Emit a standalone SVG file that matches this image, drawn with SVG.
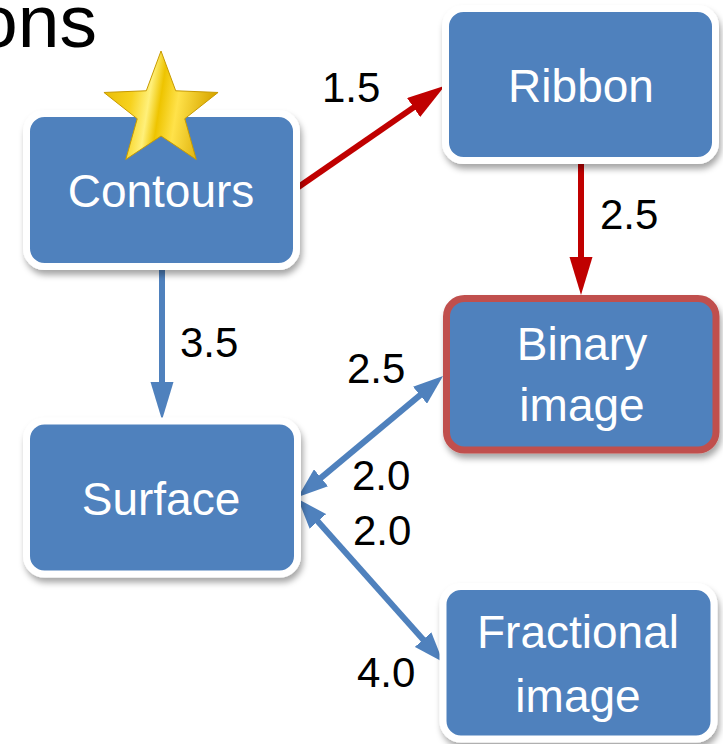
<svg xmlns="http://www.w3.org/2000/svg" width="723" height="744" viewBox="0 0 723 744">
<style>
.box{fill:#4F81BD;stroke:#FFFFFF;stroke-width:7;filter:url(#sh)}
.boxr{fill:#4F81BD;stroke:#C0504D;stroke-width:7;filter:url(#sh)}
.nt{font-family:"Liberation Sans",Arial,sans-serif;font-size:46px;fill:#FFFFFF;text-anchor:middle}
.lb{font-family:"Liberation Sans",Arial,sans-serif;font-size:42px;fill:#000000}
.red{stroke:#C00000;stroke-width:6;fill:none;marker-end:url(#rh)}
.blu{stroke:#4F81BD;stroke-width:6;fill:none}
</style>
<defs>
<filter id="sh" x="-10%" y="-10%" width="125%" height="130%">
<feDropShadow dx="2" dy="5" stdDeviation="3" flood-color="#000" flood-opacity="0.35"/>
</filter>
<marker id="rh" markerUnits="userSpaceOnUse" markerWidth="40" markerHeight="24" refX="8" refY="11.5" orient="auto">
<path d="M0,0 L38,11.5 L0,23 z" fill="#C00000"/>
</marker>
<marker id="bhv" markerUnits="userSpaceOnUse" markerWidth="40" markerHeight="24" refX="8" refY="11.5" orient="auto">
<path d="M0,0 L38,11.5 L0,23 z" fill="#4F81BD"/>
</marker>
<marker id="bh" markerUnits="userSpaceOnUse" markerWidth="32" markerHeight="22" refX="6" refY="11" orient="auto-start-reverse">
<path d="M0,0 L30,11 L0,22 z" fill="#4F81BD"/>
</marker>
<linearGradient id="gold" x1="0" y1="0" x2="1" y2="0.15">
<stop offset="0" stop-color="#E6B800"/>
<stop offset="0.3" stop-color="#F7D21E"/>
<stop offset="0.45" stop-color="#FFF07A"/>
<stop offset="0.55" stop-color="#EEC400"/>
<stop offset="0.7" stop-color="#FFE24A"/>
<stop offset="1" stop-color="#D9A800"/>
</linearGradient>
</defs>
<rect width="723" height="744" fill="#FFFFFF"/>
<text x="97" y="47" font-family="Liberation Sans, Arial, sans-serif" font-size="75" text-anchor="end" fill="#000">ons</text>

<g id="connectors">
<line class="red" x1="297" y1="188" x2="420.2" y2="102.9"/>
<line class="red" x1="581" y1="164" x2="581" y2="265"/>
<line class="blu" x1="162" y1="270" x2="162" y2="390" marker-end="url(#bhv)"/>
<line class="blu" x1="316.4" y1="481.6" x2="424.6" y2="391.4" marker-start="url(#bh)" marker-end="url(#bh)"/>
<line class="blu" x1="313.9" y1="516.9" x2="427.1" y2="644.1" marker-start="url(#bh)" marker-end="url(#bh)"/>
<text class="lb" x="322" y="102">1.5</text>
<text class="lb" x="600" y="229">2.5</text>
<text class="lb" x="180" y="357">3.5</text>
<text class="lb" x="347" y="383">2.5</text>
<text class="lb" x="352" y="490">2.0</text>
<text class="lb" x="353" y="545">2.0</text>
<text class="lb" x="357" y="687">4.0</text>
</g>

<g id="contours">
<rect class="box" x="26.5" y="113.5" width="270" height="153" rx="18"/>
<polygon points="161,51 175.69,90.77 218.06,92.46 184.78,118.73 196.27,159.54 161,136 125.73,159.54 137.22,118.73 103.94,92.46 146.31,90.77" fill="url(#gold)" stroke="#C89A00" stroke-width="1"/>
<text class="nt" x="161" y="207">Contours</text>
</g>
<g id="ribbon">
<rect class="box" x="445.5" y="8.5" width="270" height="152" rx="18"/>
<text class="nt" x="581" y="102">Ribbon</text>
</g>
<g id="binary">
<rect class="boxr" x="446.5" y="298.5" width="269.5" height="151.5" rx="18"/>
<text class="nt" x="582" y="360">Binary</text>
<text class="nt" x="582" y="421">image</text>
</g>
<g id="surface">
<rect class="box" x="26.5" y="421" width="271" height="153" rx="18"/>
<text class="nt" x="161" y="515">Surface</text>
</g>
<g id="fractional">
<rect class="box" x="443" y="586.5" width="271" height="152.5" rx="18"/>
<text class="nt" x="578" y="648">Fractional</text>
<text class="nt" x="578" y="712">image</text>
</g>
</svg>
